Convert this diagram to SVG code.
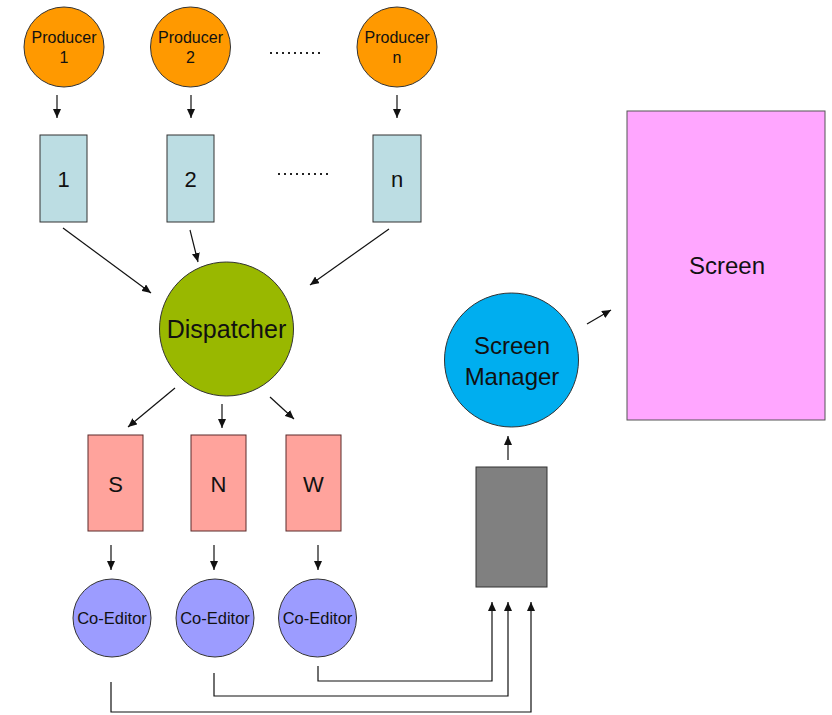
<svg xmlns="http://www.w3.org/2000/svg" width="832" height="715" viewBox="0 0 832 715">
<style>
text{font-family:"Liberation Sans",Arial,sans-serif;fill:#111;text-anchor:middle}
.prod{fill:#FF9900;stroke:#333;stroke-width:1}
.q{fill:#BCDDE3;stroke:#333;stroke-width:1}
.disp{fill:#99B800;stroke:#333;stroke-width:1}
.mb{fill:#FFA39C;stroke:#5a2a2a;stroke-width:1}
.ce{fill:#9C9CFF;stroke:#333;stroke-width:1}
.sm{fill:#00AEEF;stroke:#333;stroke-width:1}
.scr{fill:#FFA6FF;stroke:#555;stroke-width:1}
.gray{fill:#808080;stroke:#333;stroke-width:1}
.c{fill:none;stroke:#111;stroke-width:1.2;marker-end:url(#ah)}
.dots{fill:none;stroke:#222;stroke-width:2;stroke-dasharray:2 4}
</style>
<defs>
<marker id="ah" markerUnits="userSpaceOnUse" markerWidth="10" markerHeight="8" refX="9" refY="4" orient="auto">
<path d="M0,0 L9,4 L0,8 Z" fill="#111"/>
</marker>
</defs>
<rect width="832" height="715" fill="#fff"/>

<g id="producer1"><circle class="prod" cx="64" cy="47" r="40"/><text x="64" y="43" font-size="16">Producer</text><text x="64" y="63" font-size="16">1</text></g>
<g id="producer2"><circle class="prod" cx="190.5" cy="47" r="40"/><text x="190.5" y="43" font-size="16">Producer</text><text x="190.5" y="63" font-size="16">2</text></g>
<g id="producern"><circle class="prod" cx="397" cy="47" r="40"/><text x="397" y="43" font-size="16">Producer</text><text x="397" y="63" font-size="16">n</text></g>
<g id="dots1"><line class="dots" x1="270" y1="53" x2="324" y2="53"/></g>

<g id="queue1"><rect class="q" x="40" y="135" width="47" height="87"/><text x="63.5" y="187" font-size="22">1</text></g>
<g id="queue2"><rect class="q" x="167" y="135" width="47" height="87"/><text x="190.5" y="187" font-size="22">2</text></g>
<g id="queuen"><rect class="q" x="373" y="135" width="48" height="87"/><text x="397" y="187" font-size="22">n</text></g>
<g id="dots2"><line class="dots" x1="278" y1="174" x2="332" y2="174"/></g>

<g id="dispatcher"><circle class="disp" cx="226.5" cy="329" r="67"/><text x="226.5" y="338" font-size="25">Dispatcher</text></g>

<g id="boxS"><rect class="mb" x="88" y="435" width="55" height="96"/><text x="115.5" y="492" font-size="22">S</text></g>
<g id="boxN"><rect class="mb" x="191" y="435" width="55" height="96"/><text x="218.5" y="492" font-size="22">N</text></g>
<g id="boxW"><rect class="mb" x="286" y="435" width="55" height="96"/><text x="313.5" y="492" font-size="22">W</text></g>

<g id="coeditor1"><circle class="ce" cx="112" cy="618" r="39"/><text x="112" y="624" font-size="16.5">Co-Editor</text></g>
<g id="coeditor2"><circle class="ce" cx="215" cy="618" r="39"/><text x="215" y="624" font-size="16.5">Co-Editor</text></g>
<g id="coeditor3"><circle class="ce" cx="317.5" cy="618" r="39"/><text x="317.5" y="624" font-size="16.5">Co-Editor</text></g>

<g id="buffer"><rect class="gray" x="476" y="467" width="71" height="120"/></g>

<g id="screenmanager"><circle class="sm" cx="511.5" cy="360" r="67"/><text x="512" y="354" font-size="24">Screen</text><text x="512" y="385" font-size="24">Manager</text></g>

<g id="screen"><rect class="scr" x="627" y="111" width="198" height="309"/><text x="727" y="274" font-size="24">Screen</text></g>

<g id="connectors">
<line class="c" x1="57" y1="95" x2="57" y2="118"/>
<line class="c" x1="191" y1="95" x2="191" y2="118"/>
<line class="c" x1="397" y1="95" x2="397" y2="118"/>
<line class="c" x1="63" y1="228" x2="151" y2="293"/>
<line class="c" x1="190" y1="230" x2="198" y2="262"/>
<line class="c" x1="389" y1="229" x2="310" y2="285"/>
<line class="c" x1="175" y1="388" x2="128" y2="427"/>
<line class="c" x1="222" y1="404" x2="222" y2="428"/>
<line class="c" x1="270" y1="397" x2="294" y2="419"/>
<line class="c" x1="111" y1="545" x2="111" y2="570"/>
<line class="c" x1="214" y1="545" x2="214" y2="570"/>
<line class="c" x1="318" y1="545" x2="318" y2="570"/>
<polyline class="c" points="318,666 318,681 492,681 492,602"/>
<polyline class="c" points="214,673 214,696 508,696 508,602"/>
<polyline class="c" points="111,682 111,712 531,712 531,602"/>
<line class="c" x1="508" y1="460" x2="508" y2="436"/>
<line class="c" x1="587" y1="324" x2="611" y2="310"/>
</g>
</svg>
